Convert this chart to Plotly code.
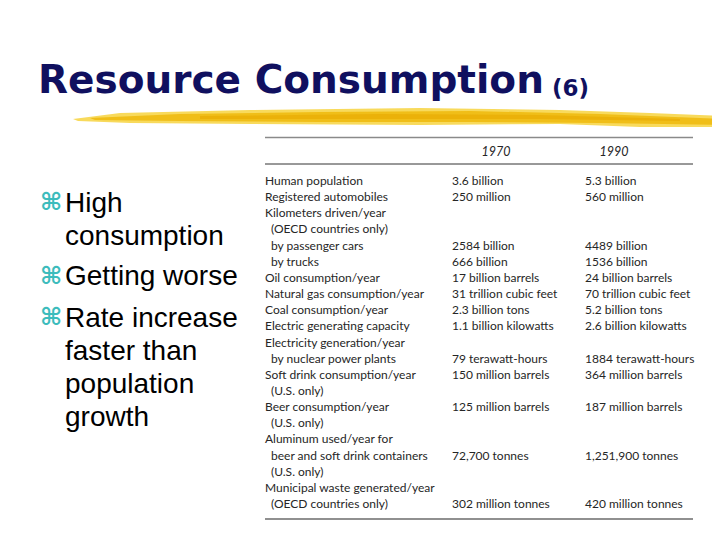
import plotly.graph_objects as go

W, H = 720, 540

# table contents, one entry per printed line
row_labels = [
    "Human population",
    "Registered automobiles",
    "Kilometers driven/year",
    "(OECD countries only)",
    "by passenger cars",
    "by trucks",
    "Oil consumption/year",
    "Natural gas consumption/year",
    "Coal consumption/year",
    "Electric generating capacity",
    "Electricity generation/year",
    "by nuclear power plants",
    "Soft drink consumption/year",
    "(U.S. only)",
    "Beer consumption/year",
    "(U.S. only)",
    "Aluminum used/year for",
    "beer and soft drink containers",
    "(U.S. only)",
    "Municipal waste generated/year",
    "(OECD countries only)",
]
row_indent = [0, 0, 0, 1, 1, 1, 0, 0, 0, 0, 0, 1, 0, 1, 0, 1, 0, 1, 1, 0, 1]
values_1970 = [
    "3.6 billion", "250 million", "", "", "2584 billion", "666 billion",
    "17 billion barrels", "31 trillion cubic feet", "2.3 billion tons",
    "1.1 billion kilowatts", "", "79 terawatt-hours", "150 million barrels", "",
    "125 million barrels", "", "", "72,700 tonnes", "", "", "302 million tonnes",
]
values_1990 = [
    "5.3 billion", "560 million", "", "", "4489 billion", "1536 billion",
    "24 billion barrels", "70 trillion cubic feet", "5.2 billion tons",
    "2.6 billion kilowatts", "", "1884 terawatt-hours", "364 million barrels", "",
    "187 million barrels", "", "", "1,251,900 tonnes", "", "", "420 million tonnes",
]
years = ["1970", "1990"]

bullets = [
    ["High", "consumption"],
    ["Getting worse"],
    ["Rate increase", "faster than", "population", "growth"],
]

# the page body has an 8px margin, so shift everything back by that much
OFF = 8


def px(x):
    return (x - OFF) / W


def py(y):
    return 1 - (y - OFF) / H


LINE_TOP = 182.0    # pixel y of first table line
LINE_STEP = 16.15   # pixel distance between table lines
LABEL_X, INDENT_X = 265, 271
COL_X = [452, 585]
HEAD_X = [496, 614]

fig = go.Figure()

table_font = dict(family="Lato, Open Sans, sans-serif", size=12, color="#262626")
line_idx = list(range(len(row_labels)))

fig.add_trace(go.Scatter(
    x=[INDENT_X if ind else LABEL_X for ind in row_indent],
    y=line_idx, text=row_labels, mode="text",
    textposition="middle right", textfont=table_font,
    hoverinfo="skip", showlegend=False,
))
for cx, vals in zip(COL_X, [values_1970, values_1990]):
    fig.add_trace(go.Scatter(
        x=[cx] * len(vals), y=line_idx, text=vals, mode="text",
        textposition="middle right", textfont=table_font,
        hoverinfo="skip", showlegend=False,
    ))


def rule_y(pix):
    return (pix - LINE_TOP) / LINE_STEP


fig.add_trace(go.Scatter(
    x=HEAD_X, y=[rule_y(153)] * 2, text=[f"<i>{y}</i>" for y in years], mode="text",
    textposition="middle center", textfont=dict(table_font, size=12.5),
    hoverinfo="skip", showlegend=False,
))

# table rules
shapes = [
    dict(type="line", xref="x", yref="y", x0=265, x1=693, y0=rule_y(137.5), y1=rule_y(137.5),
         line=dict(color="#8a8a8a", width=1.5)),
    dict(type="line", xref="x", yref="y", x0=265, x1=693, y0=rule_y(164), y1=rule_y(164),
         line=dict(color="#333333", width=1)),
    dict(type="line", xref="x", yref="y", x0=265, x1=693, y0=rule_y(519), y1=rule_y(519),
         line=dict(color="#222222", width=1.2)),
]


# yellow brush stroke under the title
def brush(points, color, opacity):
    d = "M " + " L ".join(f"{px(x):.4f},{py(y):.4f}" for x, y in points) + " Z"
    return dict(type="path", xref="paper", yref="paper", path=d,
                fillcolor=color, line=dict(width=0), opacity=opacity, layer="below")


shapes += [
    brush([(73, 119), (120, 113), (250, 110), (420, 108), (560, 110), (650, 113),
           (722, 116), (722, 127), (640, 127), (560, 124), (420, 125), (250, 124),
           (130, 123), (78, 121)], "#f7d64a", 0.9),
    brush([(90, 118), (180, 114), (320, 112), (470, 111), (600, 114), (722, 119),
           (722, 125), (600, 123), (470, 122), (320, 122), (180, 121), (95, 120)],
          "#efb90c", 0.85),
    brush([(200, 116), (380, 114), (540, 115), (680, 119), (680, 121), (540, 119),
           (380, 119), (200, 119)], "#e8a900", 0.6),
]

title_font = dict(family="DejaVu Sans", color="#10105f")
annotations = [
    dict(text="<b>Resource Consumption</b>", x=px(36), y=py(80), xref="paper", yref="paper",
         xanchor="left", yanchor="middle", showarrow=False,
         font=dict(title_font, size=39)),
    dict(text="<b>(6)</b>", x=px(550), y=py(88), xref="paper", yref="paper",
         xanchor="left", yanchor="middle", showarrow=False,
         font=dict(title_font, size=23)),
]

bullet_font = dict(family="Liberation Sans, Arial", size=28, color="#000000")
y = 202
for item in bullets:
    annotations.append(dict(
        text="<b>⌘</b>", x=px(38), y=py(y), xref="paper", yref="paper",
        xanchor="left", yanchor="middle", showarrow=False,
        font=dict(family="DejaVu Sans", size=24, color="#3cbcbc")))
    for line in item:
        annotations.append(dict(
            text=line, x=px(63), y=py(y), xref="paper", yref="paper",
            xanchor="left", yanchor="middle", showarrow=False, font=bullet_font))
        y += 33
    y += 8

fig.update_layout(
    width=W, height=H,
    margin=dict(l=0, r=0, t=0, b=0),
    paper_bgcolor="white", plot_bgcolor="white",
    xaxis=dict(range=[OFF, W + OFF], visible=False, fixedrange=True),
    yaxis=dict(range=[rule_y(H + OFF), rule_y(OFF)], visible=False, fixedrange=True),
    shapes=shapes, annotations=annotations,
)

fig.write_html("out.html")
